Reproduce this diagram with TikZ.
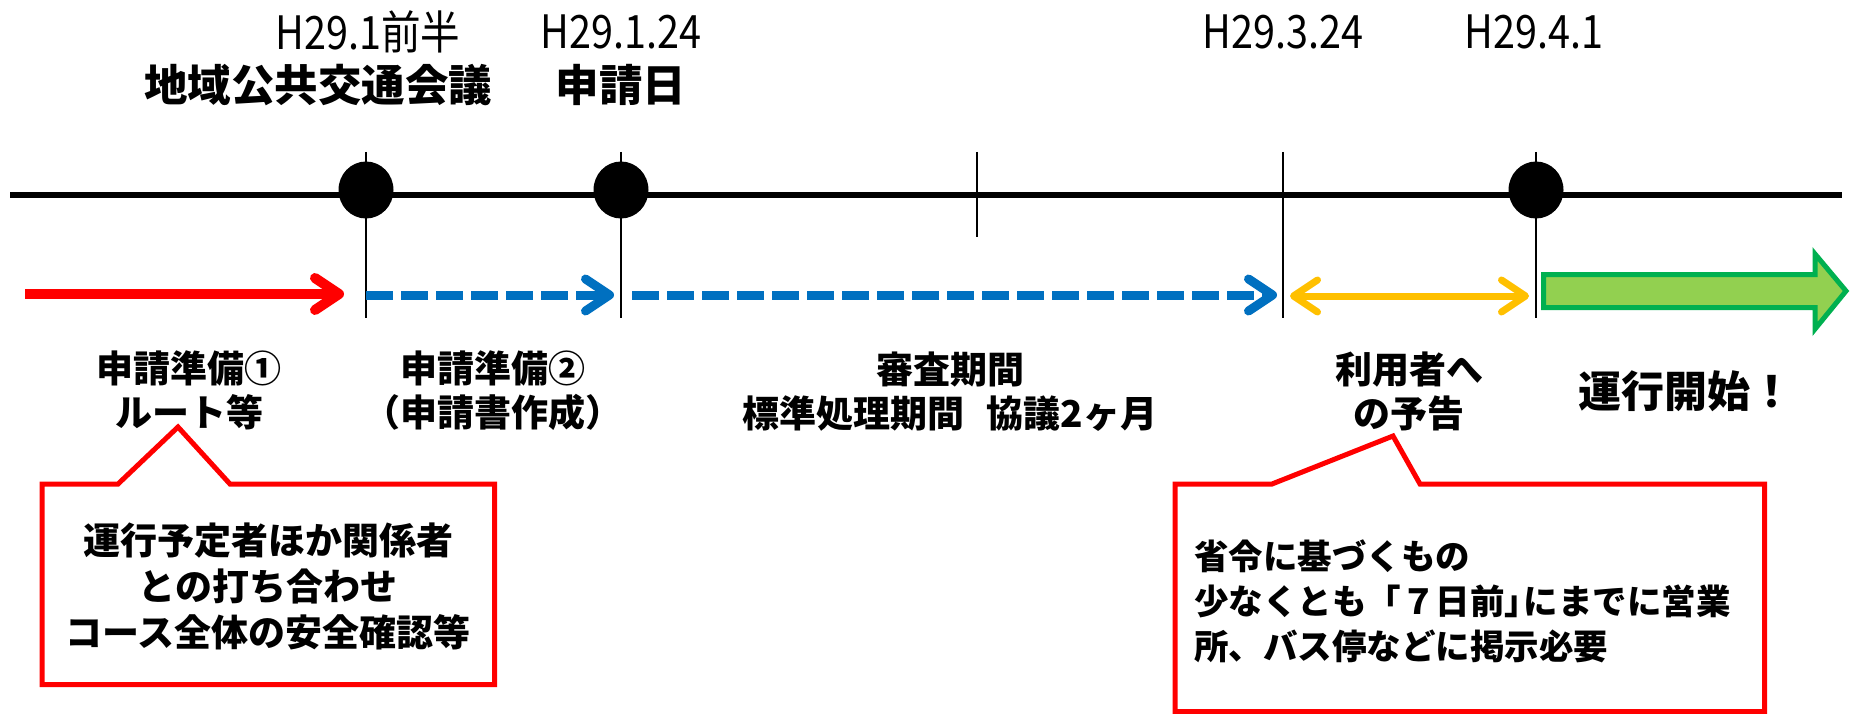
\documentclass[tikz,border=0pt]{standalone}
\usepackage{fontspec}
\setmainfont{Noto Sans CJK JP}
\usetikzlibrary{arrows.meta,shapes.geometric}
\definecolor{cred}{HTML}{FF0000}
\definecolor{cblue}{HTML}{0070C0}
\definecolor{cyel}{HTML}{FFC000}
\definecolor{cgfill}{HTML}{92D050}
\definecolor{cgline}{HTML}{00B050}
\newcommand\dtxt[1]{\scalebox{0.86}[1]{#1}}
\tikzset{mybarb/.tip={Straight Barb[length=24pt,width=32pt,round]}}
\begin{document}
\begin{tikzpicture}[x=1pt,y=-1pt,
  datelbl/.style={inner sep=0pt,font=\fontsize{46}{50}\selectfont},
  evlbl/.style={inner sep=0pt,font=\bfseries\fontsize{43.5}{48}\selectfont},
  phlbl/.style={inner sep=0pt,align=center,font=\bfseries\fontsize{37}{44}\selectfont},
  startlbl/.style={inner sep=0pt,font=\bfseries\fontsize{43}{48}\selectfont},
  notelbl/.style={inner sep=0pt,font=\bfseries\fontsize{37}{46}\selectfont},
  tickline/.style={line width=2.5pt},
  evdot/.style={ellipse,fill=black,minimum width=55pt,minimum height=57pt,inner sep=0pt},
  callout/.style={draw=cred,line width=5pt,line join=miter},
  redarr/.style={draw=cred,line width=10pt,-mybarb},
  bluearr/.style={draw=cblue,line width=9pt,dash pattern=on 27pt off 8pt,-mybarb},
  yelarr/.style={draw=cyel,line width=7pt,mybarb-mybarb},
  greenarr/.style={draw=cgline,fill=cgfill,line width=5pt,line join=miter}
]
\useasboundingbox (0,0) rectangle (1851,714);
\fill[white] (0,0) rectangle (1851,714);

% timeline
\coordinate (L0) at (10,195);
\coordinate (L1) at (1842,195);
\draw[line width=5pt] (L0) -- (L1);

% ticks
\coordinate (k1t) at (366,152); \coordinate (k1b) at (366,318);
\coordinate (k2t) at (621,152); \coordinate (k2b) at (621,318);
\coordinate (k3t) at (977,152); \coordinate (k3b) at (977,237);
\coordinate (k4t) at (1283,152); \coordinate (k4b) at (1283,318);
\coordinate (k5t) at (1536,152); \coordinate (k5b) at (1536,318);
\foreach \k in {k1,k2,k3,k4,k5} \draw[tickline] (\k t) -- (\k b);

% event dots
\node[evdot] (e1) at (366,190) {};
\node[evdot] (e2) at (621,190) {};
\node[evdot] (e5) at (1536,190) {};

% dates and events
\node[datelbl] (d1) at (368,31.5) {\dtxt{H29.1前半}};
\node[datelbl] (d2) at (621,31.5) {\dtxt{H29.1.24}};
\node[datelbl] (d3) at (1283,31.5) {\dtxt{H29.3.24}};
\node[datelbl] (d4) at (1534,31.5) {\dtxt{H29.4.1}};
\node[evlbl] (t1) at (318,85) {地域公共交通会議};
\node[evlbl] (t2) at (621,85) {申請日};

% period arrows
\coordinate (a0) at (25,294);
\coordinate (a1) at (344,294);
\coordinate (b0) at (366,295);
\coordinate (b1) at (614,295);
\coordinate (c0) at (632,295);
\coordinate (c1) at (1277,295);
\coordinate (y0) at (1290,296);
\coordinate (y1) at (1529,296);
\draw[redarr] (a0) -- (a1);
\draw[bluearr] (b0) -- (b1);
\draw[bluearr] (c0) -- (c1);
\draw[yelarr] (y0) -- (y1);

% green block arrow
\draw[greenarr] (1543.5,274.5) -- (1815,274.5) -- (1815,254) -- (1846,291) -- (1815,329) -- (1815,307.5) -- (1543.5,307.5) -- cycle;

% phase labels
\node[phlbl] (p1) at (189,390.5) {申請準備①\\ルート等};
\node[phlbl] (p2) at (493,390.5) {申請準備②\\（申請書作成）};
\node[phlbl] (p3) at (950,391.5) {審査期間\\標準処理期間\hspace{0.6em}協議2ヶ月};
\node[phlbl] (p4) at (1409,391) {利用者へ\\の予告};
\node[startlbl] (p5) at (1686,391.5) {運行開始！};

% callouts
\draw[callout] (42,484) -- (118,484) -- (178,427) -- (230,484) -- (494.5,484) -- (494.5,684.5) -- (42,684.5) -- cycle;
\node[notelbl,align=center] (n1) at (268,586) {運行予定者ほか関係者\\との打ち合わせ\\コース全体の安全確認等};

\draw[callout] (1175,484) -- (1272,484) -- (1393,436) -- (1420,484) -- (1764.5,484) -- (1764.5,711.5) -- (1175,711.5) -- cycle;
\node[notelbl,align=left,anchor=west,font=\bfseries\fontsize{34.5}{45}\selectfont] (n2) at (1194,601) {省令に基づくもの\\少なくとも「７日前」\kern-0.45em にまでに営業\\所、バス停などに掲示必要};
\end{tikzpicture}
\end{document}
